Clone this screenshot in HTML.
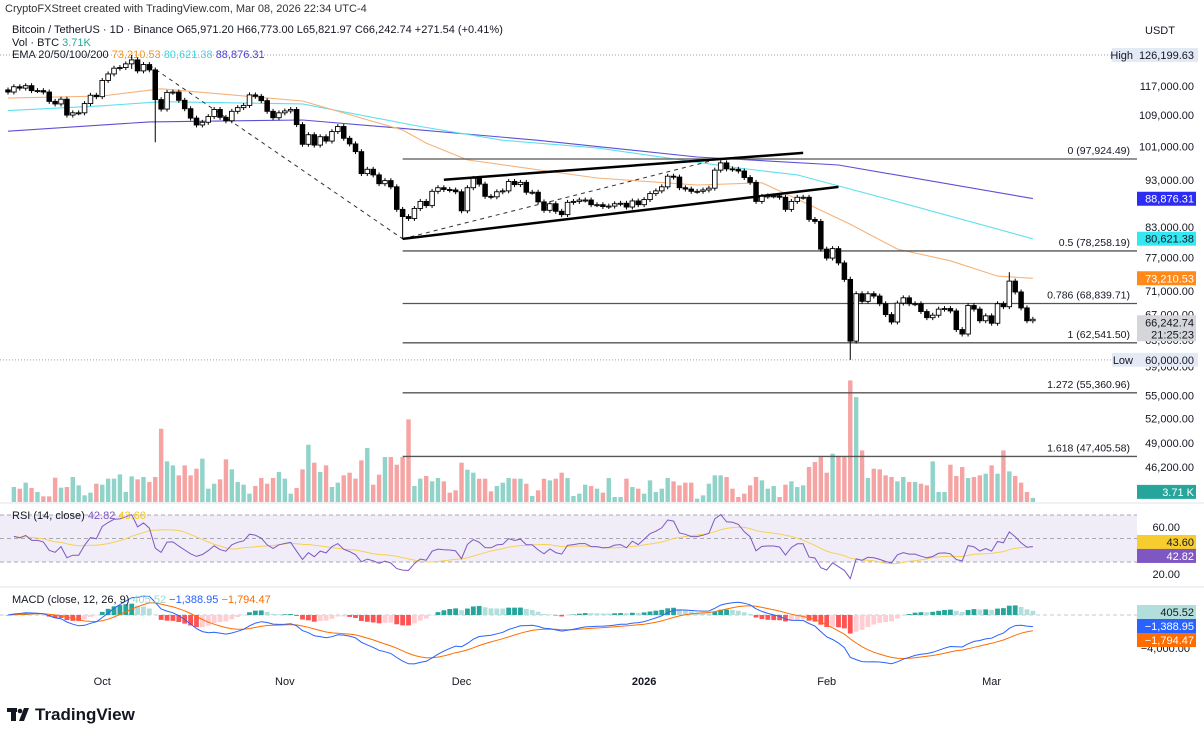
<!DOCTYPE html>
<html><head><meta charset="utf-8">
<style>
html,body{margin:0;padding:0;background:#fff;}
svg{display:block;font-family:"Liberation Sans",Arial,sans-serif;}
</style></head>
<body>
<svg id="chart" width="1204" height="731" viewBox="0 0 1204 731" xmlns="http://www.w3.org/2000/svg">
  <rect x="0" y="0" width="1204" height="731" fill="#ffffff"/>
  <text x="5" y="12" font-size="11" fill="#333">CryptoFXStreet created with TradingView.com, Mar 08, 2026 22:34 UTC-4</text>
  <text x="12" y="33" font-size="11" fill="#131722">Bitcoin / TetherUS · 1D · Binance  O65,971.20  H66,773.00  L65,821.97  C66,242.74  +271.54 (+0.41%)</text>
  <text x="12" y="46" font-size="11" fill="#131722">Vol · BTC <tspan fill="#22ab94">3.71K</tspan></text>
  <text x="12" y="58" font-size="11" fill="#131722">EMA 20/50/100/200 <tspan fill="#f7931a">73,210.53</tspan> <tspan fill="#40d8e8">80,621.38</tspan> <tspan fill="#4a3cdb">88,876.31</tspan></text>
  <text x="1160" y="34" font-size="11" fill="#131722" text-anchor="middle">USDT</text>
  <g id="layer"></g>
  <text x="12" y="519" font-size="11" fill="#131722">RSI (14, close) <tspan fill="#7e57c2">42.82</tspan> <tspan fill="#f5c518">43.60</tspan></text>
  <text x="12" y="603" font-size="11" fill="#131722">MACD (close, 12, 26, 9) <tspan fill="#9fd8d0">405.52</tspan> <tspan fill="#2962ff">−1,388.95</tspan> <tspan fill="#ff6d00">−1,794.47</tspan></text>
  <g>
    <rect x="7" y="708" width="10" height="4" fill="#131722"/>
    <rect x="11" y="708" width="5" height="13" fill="#131722"/>
    <circle cx="20" cy="711" r="2.3" fill="#131722"/>
    <polygon points="24,708 29,708 24,721 19,721" fill="#131722"/>
    <text x="35" y="720" font-size="17" font-weight="bold" fill="#131722">TradingView</text>
  </g>
</svg>
<script>
// ---- data (prices in thousands USDT) ----
const firstOpen = 115.9;
const closes = [
115.3,116.8,116.4,117.1,115.7,115.7,115.3,
112.7,112.0,113.3,109.0,109.6,109.6,112.1,114.4,114.0,
118.6,120.5,122.2,122.4,123.5,124.7,121.4,123.3,121.7,113.2,110.6,115.2,115.3,113.0,110.7,108.2,106.4,107.1,108.6,110.5,108.4,107.5,110.0,111.0,111.6,114.5,114.1,112.9,110.0,108.3,109.6,
110.1,110.5,106.5,101.5,103.9,101.3,103.4,102.3,104.7,106.0,103.0,101.6,99.7,94.5,95.5,94.2,92.2,92.9,91.5,86.6,85.1,84.7,86.8,88.3,87.4,90.5,91.3,90.9,90.8,90.4,
86.3,91.3,93.4,92.1,89.4,89.3,90.4,90.6,92.7,92.0,92.5,90.3,90.3,88.2,86.4,87.8,86.2,85.5,88.1,88.3,88.6,88.6,87.6,87.6,87.2,87.3,87.8,87.9,87.1,88.4,87.6,
88.7,90.0,90.6,91.5,93.9,93.7,91.3,91.0,90.5,90.5,90.8,91.2,95.3,97.0,95.6,95.5,95.1,93.6,92.5,88.3,89.4,89.5,89.5,89.2,86.6,88.3,89.2,89.2,84.5,84.1,78.6,
76.9,78.7,76.0,73.0,62.8,70.5,69.2,70.5,70.1,68.8,67.0,65.8,68.9,69.8,68.8,68.8,67.5,66.5,66.9,67.9,68.0,67.6,64.6,63.9,68.5,67.9,66.0,66.8,
65.6,68.8,68.3,72.7,70.8,68.1,66.0,66.24];
// notable wicks: index -> [high, low]
const wickIdx  = [21, 25, 67, 143, 170];
const wickHigh = [126.2, 115.5, 87.0, 73.5, 74.3];
const wickLow  = [122.0, 102.0, 80.6, 60.0, 69.5];
// volume (thousand BTC)
const volumes = [13.5,12,17.4,12.6,9,5.1,5.1,21.9,12.9,13.5,22.5,15,6,8.4,16.5,15.6,21,21,24.9,9,23.1,20.4,22.5,18,22.5,
66,36.6,33,24,33,24,30,39,12,16.5,20.4,38.4,29.4,18,15.6,7.5,14.4,21.6,16.5,21.6,27,21,7.5,12.6,29.4,51.6,35.4,27,33,13.5,17.4,24,26.4,21,37.5,48.6,15.6,24.6,40.5,40.5,33.6,40.5,74.4,
14.4,21,23.4,18.6,21.6,18.6,8.4,10.5,35.4,29.1,26.4,21,21,9.6,14.4,17.4,21.6,21,21,16.5,5.4,10.5,21,19.5,21,26.4,21.6,5.4,7.5,15.6,14.4,12,8.4,21.6,4.5,4.5,21,13.5,12,7.5,19.5,9,12,21.6,18.6,15,17.4,17.4,3,6,16.5,24,24,22.5,12,4.5,7.5,15,22.5,19.5,12,14.4,4.5,15.6,18.6,13.5,15,31.5,36,40.5,26.4,43.5,40.5,40.5,109.5,94.5,46.5,21.6,30,29.4,24,22.5,18.6,22.5,18,18,16.5,15,36.6,9,9,33.6,23.4,31.5,21.6,22.5,24,25.5,33,25.5,46.5,27.6,23.4,17.4,9,3.71];
// EMA samples: [day index, value]
const ema50Idx  = [0,16,26,50,67,71,78,100,117,128,134,143,151,160,168,174];
const ema50Val  = [113.6,114.2,116.2,112.8,105.1,101.8,97.7,93.5,91.9,92.4,88.8,83.5,78.6,76.4,73.6,73.2];
const ema100Idx = [0,16,26,50,70,84,100,124,134,152,174];
const ema100Val = [110.2,111.5,112.6,112,106,102.5,100.6,95.8,94.2,87.9,80.6];
const ema200Idx = [0,24,50,67,90,117,141,174];
const ema200Val = [104.8,107.2,107.7,105.5,102.5,98.4,96.5,88.9];
// fibonacci levels
const fibRatios = ["0","0.5","0.786","1","1.272","1.618"];
const fibPrices = [97924.49,78258.19,68839.71,62541.50,55360.96,47405.58];
const fibStartIdx = 67;
// price axis ticks
const priceTicks = [117000,109000,101000,93000,83000,77000,71000,67000,63000,59000,55000,52000,49000,46200,43600];
const highPrice = 126199.63, lowPrice = 60000.00;
// time axis
const monthLabels = ["Oct","Nov","Dec","2026","Feb","Mar"];
const monthIdx = [16,47,77,108,139,167];
// rsi / macd ticks
const rsiTicks = [60,20];
const macdTicks = [-4000];

// ---- axes ----
const X0 = 8, DX = 5.89;
const xi = i => X0 + i*DX;
const LREF = Math.log(97924.49);
const py = p => 159 + (LREF - Math.log(p))*410;      // p in USDT
const pk = v => py(v*1000);                          // v in thousands
const VBASE = 502, VPX = 1.11;
const vy = v => VBASE - v*VPX;
const ry = r => 562 - (r-30)*1.175;
const my = m => 615 - m*0.00825;

const NS = "http://www.w3.org/2000/svg";
const layer = document.getElementById('layer');
function mk(tag, attrs, parent){
  const e = document.createElementNS(NS, tag);
  for (const k in attrs) e.setAttribute(k, attrs[k]);
  (parent||layer).appendChild(e);
  return e;
}
function fmt(v){ return v.toLocaleString('en-US',{minimumFractionDigits:2,maximumFractionDigits:2}); }

// panel separators & RSI band
let e;
e = mk('line',{x1:0,y1:503,x2:1204,y2:503,stroke:'#e0e3eb'});
 
e = mk('line',{x1:0,y1:587,x2:1204,y2:587,stroke:'#e0e3eb'});
 
e = mk('rect',{x:0,y:ry(70),width:1137,height:ry(30)-ry(70),fill:'#f0edf8'});
 
[70,50,30].forEach(v=>{
  const l = mk('line',{x1:0,y1:ry(v),x2:1137,y2:ry(v),stroke:'#a8a8b0','stroke-dasharray':'4,3','stroke-width':1});
   
});
e = mk('line',{x1:0,y1:my(0),x2:1137,y2:my(0),stroke:'#c8cad0','stroke-dasharray':'4,3'});
 

// opens
const n = closes.length;
const opens = closes.map((c,i)=> i===0 ? firstOpen : closes[i-1]);

// volume
const vg = mk('g',{});
 
volumes.forEach((v,j)=>{
  const i = n - volumes.length + j;
  if (i<0) return;
  const up = closes[i] >= opens[i];
  const r = mk('rect',{x:xi(i)-2.2,y:vy(v),width:4.4,height:VBASE-vy(v),fill: up?'#8fd3c9':'#f6a3a3'},vg);
   
});

// high/low dotted lines
e = mk('line',{x1:0,y1:py(highPrice),x2:1112,y2:py(highPrice),stroke:'#9aa0ab','stroke-dasharray':'1,2'});
 
e = mk('line',{x1:0,y1:py(lowPrice),x2:1112,y2:py(lowPrice),stroke:'#9aa0ab','stroke-dasharray':'1,2'});
 

// EMA lines
function emaLine(idx, vals, color, name){
  const pts = idx.map((d,k)=> xi(d).toFixed(1)+','+pk(vals[k]).toFixed(1)).join(' ');
  const p = mk('polyline',{points:pts,fill:'none',stroke:color,'stroke-width':1.1});
   
}
emaLine(ema200Idx, ema200Val, '#5b4fd6', 'ema-200-line');
emaLine(ema100Idx, ema100Val, '#5fe0ee', 'ema-100-line');
emaLine(ema50Idx, ema50Val, '#f6b27a', 'ema-50-line');

// fib levels
fibPrices.forEach((p,k)=>{
  const y = py(p);
  const l = mk('line',{x1:xi(fibStartIdx),y1:y,x2:1137,y2:y,stroke:'#555',"stroke-width":1.3});
   
  const t = mk('text',{x:1130,y:y-5,'font-size':10.5,fill:'#131722','text-anchor':'end'});
  t.textContent = fibRatios[k]+' ('+fmt(p)+')';
   
});

// trend drawings
function seg(i1,v1,i2,v2,attrs,name){
  const a = Object.assign({x1:xi(i1),y1:pk(v1),x2:xi(i2),y2:pk(v2)},attrs);
  const l = mk('line',a);
   
}
seg(24,123.1,67,80.6,{stroke:'#333','stroke-dasharray':'4,4','stroke-width':1},'decline-dashed-line');
seg(67,80.6,120,97.7,{stroke:'#333','stroke-dasharray':'4,4','stroke-width':1},'wedge-dashed-line');
seg(74,93.1,135,99.4,{stroke:'#000','stroke-width':2.5},'wedge-upper-line');
seg(67,80.6,141,91.5,{stroke:'#000','stroke-width':2.5},'wedge-lower-line');

// candles
const cg = mk('g',{});
 
for (let i=0;i<n;i++){
  const o=opens[i], c=closes[i];
  let hi=Math.max(o,c)*1.006, lo=Math.min(o,c)*0.994;
  const w = wickIdx.indexOf(i);
  if (w>=0){ hi=Math.max(hi,wickHigh[w]); lo=Math.min(lo,wickLow[w]); }
  const x = xi(i), up = c>=o;
  const wl = mk('line',{x1:x,y1:pk(hi),x2:x,y2:pk(lo),stroke:'#000','stroke-width':1},cg);
   
  const yt = pk(Math.max(o,c)), yb = pk(Math.min(o,c));
  const b = mk('rect',{x:x-2.3,y:yt,width:4.6,height:Math.max(1,yb-yt),fill:up?'#fff':'#000',stroke:'#000','stroke-width':0.9},cg);
   
}

// RSI computation
const rsi=[null]; let ag=0, al=0;
for (let i=1;i<=14 && i<n;i++){ const d=closes[i]-closes[i-1]; if(d>0) ag+=d; else al-=d; }
ag/=14; al/=14;
for (let i=1;i<n;i++){
  const d=closes[i]-closes[i-1];
  ag=(ag*13+Math.max(d,0))/14; al=(al*13+Math.max(-d,0))/14;
  rsi.push(100-100/(1+ag/(al||1e-9)));
}
const rsiMa = rsi.map((v,i)=>{ if(i<1) return null; const s=rsi.slice(Math.max(1,i-13),i+1); return s.reduce((a,b)=>a+b,0)/s.length; });
function pline(vals, yf, color, name, w){
  const pts=[]; vals.forEach((v,i)=>{ if(v!==null) pts.push(xi(i).toFixed(1)+','+yf(v).toFixed(1)); });
  const p = mk('polyline',{points:pts.join(' '),fill:'none',stroke:color,'stroke-width':w||1});
   
}
pline(rsiMa, ry, '#f7d154', 'rsi-ma-line', 1);
pline(rsi, ry, '#7e57c2', 'rsi-line', 1);

// MACD computation
function ema(arr, len){ const k=2/(len+1); const out=[]; arr.forEach((v,i)=> out.push(i===0? v : v*k + out[i-1]*(1-k))); return out; }
const cUsd = closes.map(c=>c*1000);
const e12=ema(cUsd,12), e26=ema(cUsd,26);
const macd = e12.map((v,i)=>v-e26[i]);
const sig = ema(macd,9);
const hist = macd.map((v,i)=>v-sig[i]);
const hg = mk('g',{});
 
hist.forEach((h,i)=>{
  const prev = i>0?hist[i-1]:0;
  const col = h>=0 ? (h>=prev?'#26a69a':'#b2dfdb') : (h<prev?'#ff5252':'#ffcdd2');
  const y1 = Math.min(my(0),my(h)), hh=Math.abs(my(h)-my(0));
  const r = mk('rect',{x:xi(i)-2.4,y:y1,width:4.8,height:Math.max(0.5,hh),fill:col},hg);
   
});
pline(sig, my, '#ff6d00', 'macd-signal-line', 1);
pline(macd, my, '#2962ff', 'macd-line', 1);

// price axis labels
function axisText(x,y,str,color,name,anchor,size,weight){
  const t = mk('text',{x:x,y:y,'font-size':size||11,fill:color,'text-anchor':anchor||'end'});
  if (weight) t.setAttribute('font-weight',weight);
  t.textContent = str;
   
  return t;
}
priceTicks.forEach(p=>{ axisText(1194, py(p)+4, fmt(p), '#131722', 'price-tick'); });
function tag(y,h,bg,lines,fg,name){
  const r = mk('rect',{x:1137,y:y-h/2,width:59,height:h,fill:bg});
   
  lines.forEach((s,k)=> axisText(1194, y-h/2+11+k*12, s, fg, name+'-text'));
}
// high / low tags
[[highPrice,'High','high-tag'],[lowPrice,'Low','low-tag']].forEach(a=>{
  const y = py(a[0]);
  const r = mk('rect',{x:1112,y:y-7,width:86,height:14,fill:'#e3eaf5'});
   
  axisText(1133, y+4, a[1], '#131722', a[2]+'-word');
  axisText(1194, y+4, fmt(a[0]), '#131722', a[2]+'-value');
});
tag(pk(88.87631),14,'#2c2cf2',['88,876.31'],'#fff','ema200-tag');
tag(pk(80.62138),14,'#34e8f2',['80,621.38'],'#131722','ema100-tag');
tag(pk(73.21053),14,'#ff8a1a',['73,210.53'],'#fff','ema50-tag');
tag(pk(66.24274)+9,26,'#d4d6da',['66,242.74','21:25:23'],'#131722','last-price-tag');
tag(vy(volumes[volumes.length-1])-6,14,'#26a69a',['3.71 K'],'#fff','volume-tag');
rsiTicks.forEach(v=> axisText(1180, ry(v)+4, v.toFixed(2), '#131722', 'rsi-tick'));
tag(ry(43.60)-4,14,'#f7cc2e',['43.60'],'#131722','rsi-ma-tag');
tag(ry(42.82)+9,14,'#7e57c2',['42.82'],'#fff','rsi-tag');
macdTicks.forEach(v=> axisText(1190, my(v)+4, '−4,000.00', '#131722', 'macd-tick'));
tag(612,14,'#b2dfdb',['405.52'],'#131722','macd-hist-tag');
tag(626,14,'#2962ff',['−1,388.95'],'#fff','macd-tag');
tag(640,14,'#ff6d00',['−1,794.47'],'#fff','macd-signal-tag');

// time axis
monthLabels.forEach((m,k)=>{
  axisText(xi(monthIdx[k]), 685, m, '#131722', 'time-label-'+m.toLowerCase(), 'middle', 11, m==='2026'?'bold':null);
});
</script>
</body></html>
